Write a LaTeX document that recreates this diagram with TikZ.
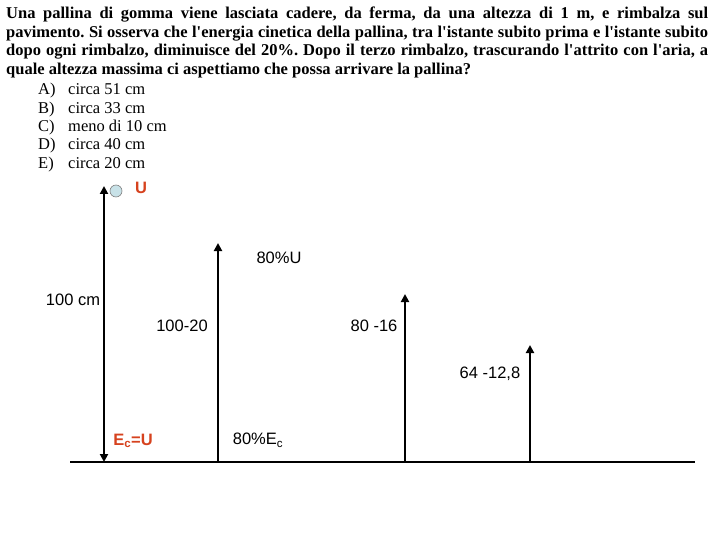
\documentclass[tikz,border=0pt]{standalone}
\usepackage{fontspec}
\setmainfont{Liberation Serif}
\newfontfamily\labfont{Liberation Sans}
\usetikzlibrary{arrows.meta}
\definecolor{enred}{RGB}{214,66,30}
\definecolor{ballblue}{RGB}{200,226,232}
\newcommand{\ap}{\textquotesingle}
\frenchspacing

\begin{document}
\begin{tikzpicture}[x=1pt,y=-1pt]
\tikzstyle{every node}+=[inner sep=0pt]
\tikzstyle{qline}=[anchor=base west,font=\bfseries\fontsize{16.5}{18.5}\selectfont]
\tikzstyle{opt}=[anchor=base west,font=\fontsize{16.5}{18}\selectfont]
\tikzstyle{lab}=[font=\labfont\fontsize{16.5}{18}\selectfont]
\tikzstyle{elab}=[text=enred,font=\labfont\bfseries\fontsize{16.5}{18}\selectfont]
\tikzstyle{bar}=[line width=2.3pt,-{Triangle[length=8pt,width=8pt]}]
\useasboundingbox (0,0) rectangle (720,540);
% question text
\node[qline] (q1) at (6,19) {\makebox[702pt][s]{Una pallina di gomma viene lasciata cadere, da ferma, da una altezza di 1 m, e rimbalza sul}};
\node[qline] (q2) at (6,38) {\makebox[702pt][s]{pavimento. Si osserva che l\ap energia cinetica della pallina, tra l\ap istante subito prima e l\ap istante subito}};
\node[qline] (q3) at (6,56) {\makebox[702pt][s]{dopo ogni rimbalzo, diminuisce del 20\%. Dopo il terzo rimbalzo, trascurando l\ap attrito con l\ap aria, a}};
\node[qline] (q4) at (6,75) {quale altezza massima ci aspettiamo che possa arrivare la pallina?};
% answers
\foreach \l/\t [count=\i] in {A/circa 51 cm, B/circa 33 cm, C/meno di 10 cm, D/circa 40 cm, E/circa 20 cm}{
  \node[opt] (o\l) at (38,{95+18.3*(\i-1)}) {\l)};
  \node[opt] (t\l) at (68,{95+18.3*(\i-1)}) {\t};
}
% floor
\coordinate (g0) at (70,462);
\coordinate (g1) at (695,462);
\draw[line width=1.5pt] (g0) -- (g1);
% heights
\coordinate (b1) at (104,462);
\coordinate (t1) at (104,186);
\coordinate (b2) at (218,462);
\coordinate (t2) at (218,243);
\coordinate (b3) at (405,462);
\coordinate (t3) at (405,294);
\coordinate (b4) at (530,462);
\coordinate (t4) at (530,345);
\draw[bar,{Triangle[length=8pt,width=8pt]}-{Triangle[length=8pt,width=8pt]}] (b1) -- (t1);
\draw[bar] (b2) -- (t2);
\draw[bar] (b3) -- (t3);
\draw[bar] (b4) -- (t4);
% ball
\node[circle,draw=gray,fill=ballblue,minimum size=12pt,line width=0.6pt] (ball) at (116,191) {};
% labels
\node[elab] (U) at (141,188) {U};
\node[lab] (pu) at (279,258) {80\%U};
\node[lab] (h0) at (73,300) {100 cm};
\node[lab] (h1) at (182,326) {100-20};
\node[lab] (h2) at (374,326) {80 -16};
\node[lab] (h3) at (490,374) {64 -12,8};
\node[elab] (ec) at (133,441) {E\textsubscript{c}=U};
\node[lab] (pe) at (258,440) {80\%E\textsubscript{c}};
\end{tikzpicture}
\end{document}
